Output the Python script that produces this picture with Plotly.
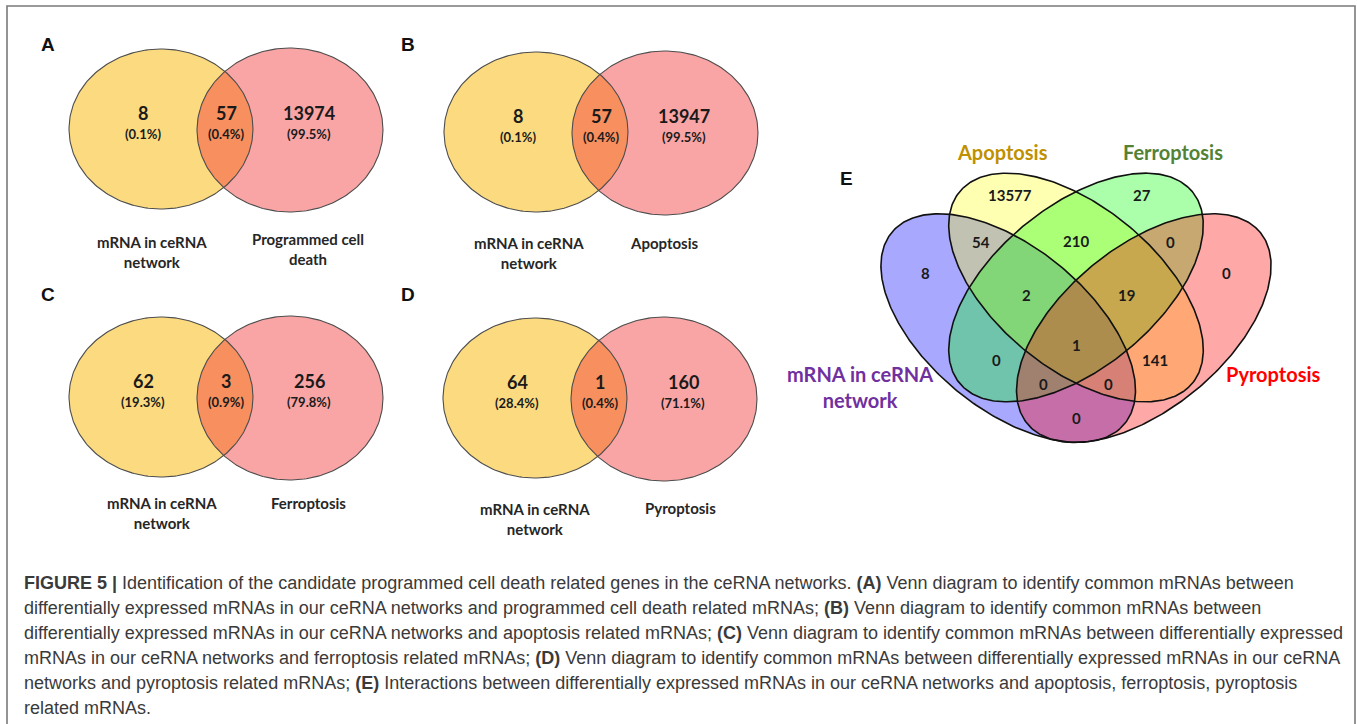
import numpy as np
import plotly.graph_objects as go

# ---------------- data ----------------
# Two-set Venn panels A-D: mRNA in ceRNA network vs. a cell-death gene set
panel_letters = ["A", "B", "C", "D"]
left_only = [8, 8, 62, 64]
shared = [57, 57, 3, 1]
right_only = [13974, 13947, 256, 160]
left_names = ["mRNA in ceRNA<br>network"] * 4
right_names = ["Programmed cell<br>death", "Apoptosis", "Ferroptosis", "Pyroptosis"]

# Four-set Venn panel E
quad_set_names = ["mRNA in ceRNA<br>network", "Apoptosis", "Ferroptosis", "Pyroptosis"]
quad_regions = ["M", "A", "F", "P", "MA", "AF", "FP", "MAF", "AFP", "MAFP",
                "MF", "AP", "MFP", "MAP", "MP"]
quad_counts = [8, 13577, 27, 0, 54, 210, 0, 2, 19, 1, 0, 141, 0, 0, 0]

caption_lines = [
    "<b>FIGURE 5 |</b> Identification of the candidate programmed cell death related genes in the ceRNA networks. "
    "<b>(A)</b> Venn diagram to identify common mRNAs between",
    "differentially expressed mRNAs in our ceRNA networks and programmed cell death related mRNAs; "
    "<b>(B)</b> Venn diagram to identify common mRNAs between",
    "differentially expressed mRNAs in our ceRNA networks and apoptosis related mRNAs; "
    "<b>(C)</b> Venn diagram to identify common mRNAs between differentially expressed",
    "mRNAs in our ceRNA networks and ferroptosis related mRNAs; <b>(D)</b> Venn diagram to identify "
    "common mRNAs between differentially expressed mRNAs in our ceRNA",
    "networks and pyroptosis related mRNAs; <b>(E)</b> Interactions between differentially expressed "
    "mRNAs in our ceRNA networks and apoptosis, ferroptosis, pyroptosis",
    "related mRNAs.",
]

# ---------------- layout helpers ----------------
W, H = 1357, 724
VFONT = "Lato, 'Open Sans', sans-serif"
SANS = "'Liberation Sans', Arial, sans-serif"
fig = go.Figure()
ann = []


def ellipse_pts(cx, cy, rx, ry, n=240):
    t = np.linspace(0, 2 * np.pi, n)
    return cx + rx * np.cos(t), cy + ry * np.sin(t)


def ray_hit(px, py, dx, dy, e):
    cx, cy, rx, ry = e
    a = (dx / rx) ** 2 + (dy / ry) ** 2
    b = 2 * ((px - cx) * dx / rx ** 2 + (py - cy) * dy / ry ** 2)
    c = ((px - cx) / rx) ** 2 + ((py - cy) / ry) ** 2 - 1
    return (-b + np.sqrt(b * b - 4 * a * c)) / (2 * a)


def lens_pts(e1, e2, n=240):
    px = ((e1[0] + e1[2]) + (e2[0] - e2[2])) / 2
    py = (e1[1] + e2[1]) / 2
    th = np.linspace(0, 2 * np.pi, n)
    dx, dy = np.cos(th), np.sin(th)
    r = np.minimum(ray_hit(px, py, dx, dy, e1), ray_hit(px, py, dx, dy, e2))
    return px + r * dx, py + r * dy


def text(x, y, s, size, color="#1a1a1a", family=VFONT, xanchor="center", yanchor="middle"):
    ann.append(dict(x=x, y=y, xref="x", yref="y", text=s, showarrow=False,
                    font=dict(family=family, size=size, color=color),
                    xanchor=xanchor, yanchor=yanchor, align="center"))


# ---------------- panels A-D ----------------
YELLOW, PINK, LENS, EDGE = "#FCDB80", "#F9A5A5", "#F78F5E", "#4d4d4d"
origins = [(161, 129), (536, 132), (161, 397), (535, 398)]
letter_pos = [(48, 44), (408, 44), (48, 294), (408, 294)]
left_lab = [(-9, 123), (-7, 121), (1, 116), (0, 121)]
right_lab = [(147, 120), (128, 111), (147, 106), (145, 110)]

for i in range(4):
    ox, oy = origins[i]
    ey = (ox, oy, 92, 80)
    ep = (ox + 129, oy + 1, 93, 82)
    for e, col in ((ey, YELLOW), (ep, PINK)):
        x, y = ellipse_pts(*e)
        fig.add_trace(go.Scatter(x=x, y=y, mode="lines", fill="toself", fillcolor=col,
                                 line=dict(width=0), hoverinfo="skip", showlegend=False))
    lx, ly = lens_pts(ey, ep)
    fig.add_trace(go.Scatter(x=lx, y=ly, mode="lines", fill="toself", fillcolor=LENS,
                             line=dict(width=0), hoverinfo="skip", showlegend=False))
    for e in (ey, ep):
        x, y = ellipse_pts(*e)
        fig.add_trace(go.Scatter(x=x, y=y, mode="lines", line=dict(color=EDGE, width=1.1),
                                 hoverinfo="skip", showlegend=False))

    total = left_only[i] + shared[i] + right_only[i]
    for val, dx in ((left_only[i], -18), (shared[i], 65), (right_only[i], 148)):
        text(ox + dx, oy - 16, f"<b>{val}</b>", 18)
        text(ox + dx, oy + 5, f"<b>({100 * val / total:.1f}%)</b>", 13)
    text(letter_pos[i][0], letter_pos[i][1], f"<b>{panel_letters[i]}</b>", 19,
         color="#111111", family=SANS)
    text(ox + left_lab[i][0], oy + left_lab[i][1], f"<b>{left_names[i]}</b>", 15, color="#262626")
    text(ox + right_lab[i][0], oy + right_lab[i][1], f"<b>{right_names[i]}</b>", 15, color="#262626")

# ---------------- panel E ----------------
EX0, EY0, SX, SY, YTOP = 1076, 173, 452, 406, 0.852


def to_px(xn, yn):
    return EX0 + (np.asarray(xn) - 0.5) * SX, EY0 + (YTOP - np.asarray(yn)) * SY


quad_ellipses = [  # centre, semi-axes, angle of major axis (normalised units, y up)
    (0.35, 0.47, 0.35, 0.19, -45),
    (0.50, 0.57, 0.35, 0.19, -45),
    (0.50, 0.57, 0.35, 0.19, 45),
    (0.65, 0.47, 0.35, 0.19, 45),
]
quad_fill = ["rgba(0,0,255,0.34)", "rgba(255,255,0,0.30)",
             "rgba(0,255,0,0.33)", "rgba(255,0,0,0.34)"]
quad_label_colors = ["#7030A0", "#BF9000", "#548235", "#FF0000"]

t = np.linspace(0, 2 * np.pi, 360)
outlines = []
for (cx, cy, a, b, ang), col in zip(quad_ellipses, quad_fill):
    phi = np.deg2rad(ang)
    xn = cx + a * np.cos(t) * np.cos(phi) - b * np.sin(t) * np.sin(phi)
    yn = cy + a * np.cos(t) * np.sin(phi) + b * np.sin(t) * np.cos(phi)
    x, y = to_px(xn, yn)
    outlines.append((x, y))
    fig.add_trace(go.Scatter(x=x, y=y, mode="lines", fill="toself", fillcolor=col,
                             line=dict(width=0), hoverinfo="skip", showlegend=False))
for x, y in outlines:
    fig.add_trace(go.Scatter(x=x, y=y, mode="lines", line=dict(color="#111111", width=1.6),
                             hoverinfo="skip", showlegend=False))

region_pos = {
    "M": (0.168, 0.606), "A": (0.355, 0.798), "F": (0.645, 0.798), "P": (0.834, 0.606),
    "MA": (0.29, 0.683), "AF": (0.5, 0.685), "FP": (0.71, 0.683),
    "MAF": (0.39, 0.552), "AFP": (0.612, 0.552), "MAFP": (0.5, 0.429),
    "MF": (0.325, 0.392), "AP": (0.675, 0.392),
    "MFP": (0.428, 0.333), "MAP": (0.572, 0.333), "MP": (0.5, 0.249),
}
for reg, cnt in zip(quad_regions, quad_counts):
    x, y = to_px(*region_pos[reg])
    text(float(x), float(y), f"<b>{cnt}</b>", 15)

set_label_pos = [(860, 387), (1002, 152), (1173, 152), (1273, 374)]
for name, col, (x, y) in zip(quad_set_names, quad_label_colors, set_label_pos):
    text(x, y, f"<b>{name}</b>", 20, color=col)
text(846, 178, "<b>E</b>", 19, color="#111111", family=SANS)

# ---------------- caption ----------------
for k, line in enumerate(caption_lines):
    text(22, 583 + 25 * k, line, 18, color="#3a3a3a", family=SANS, xanchor="left")

fig.update_layout(
    width=W, height=H, margin=dict(l=0, r=0, t=0, b=0),
    paper_bgcolor="white", plot_bgcolor="white",
    xaxis=dict(range=[0, W], visible=False, fixedrange=True),
    yaxis=dict(range=[H, 0], visible=False, fixedrange=True),
    annotations=ann,
    shapes=[dict(type="rect", xref="x", yref="y", x0=7, y0=6, x1=1355, y1=760,
                 line=dict(color="#7a7a7a", width=1.6))],
    hovermode=False,
)

fig.write_html("out.html", config={"displayModeBar": False})
